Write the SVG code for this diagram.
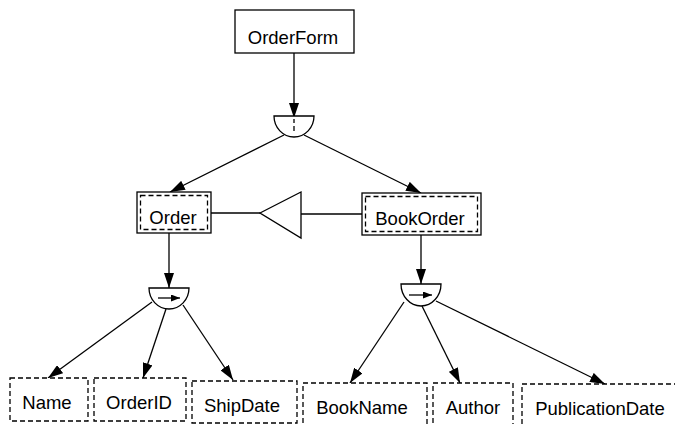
<svg xmlns="http://www.w3.org/2000/svg" width="675" height="424" viewBox="0 0 675 424">
<defs>
<marker id="ah" markerUnits="userSpaceOnUse" markerWidth="15" markerHeight="10" refX="15" refY="5" orient="auto">
<path d="M0,0 L15,5 L0,10 Z" fill="#000"/>
</marker>
<marker id="sh" markerUnits="userSpaceOnUse" markerWidth="9" markerHeight="7" refX="9" refY="3.5" orient="auto">
<path d="M0,0 L9,3.5 L0,7 Z" fill="#000"/>
</marker>
</defs>
<style>
.box{fill:#fff;stroke:#000;stroke-width:1.3}
.dash{fill:#fff;stroke:#000;stroke-width:1.3;stroke-dasharray:5,3}
.idash{fill:none;stroke:#000;stroke-width:1.3;stroke-dasharray:5,3}
.t{font-family:"Liberation Sans",Arial,sans-serif;font-size:18.5px;text-anchor:middle;fill:#000}
.c{fill:none;stroke:#000;stroke-width:1.3}
.a{fill:none;stroke:#000;stroke-width:1.3;marker-end:url(#ah)}
.g{fill:#fff;stroke:#000;stroke-width:1.3}
</style>
<g id="connectors">
<line class="a" x1="294" y1="53" x2="294" y2="118"/>
<line class="a" x1="284" y1="135" x2="170" y2="192"/>
<line class="a" x1="304" y1="135" x2="421" y2="193"/>
<line class="c" x1="211" y1="213" x2="260" y2="213"/>
<line class="c" x1="301" y1="214" x2="362" y2="214"/>
<line class="a" x1="169" y1="233" x2="169" y2="288"/>
<line class="a" x1="152" y1="302" x2="48" y2="378"/>
<line class="a" x1="166" y1="309" x2="143" y2="378"/>
<line class="a" x1="183" y1="305" x2="233" y2="380"/>
<line class="a" x1="421" y1="235" x2="421" y2="284"/>
<line class="a" x1="404" y1="302" x2="350" y2="383"/>
<line class="a" x1="422" y1="306" x2="460" y2="383"/>
<line class="a" x1="436" y1="301" x2="605" y2="384"/>
</g>
<g id="OrderForm">
<rect class="box" x="235" y="10" width="119" height="43"/>
<text class="t" x="293" y="44">OrderForm</text>
</g>
<g id="gate-top">
<path class="g" d="M274,116 A20,21 0 0 0 314,116 Z"/>
<line class="c" x1="294" y1="119" x2="294" y2="123"/>
<line class="c" x1="294" y1="126" x2="294" y2="131"/>
</g>
<g id="Order">
<rect class="box" x="137" y="192" width="74" height="41"/>
<rect class="idash" x="140.5" y="195.5" width="67" height="34"/>
<text class="t" x="173" y="224">Order</text>
</g>
<g id="BookOrder">
<rect class="box" x="362" y="193" width="119" height="42"/>
<rect class="idash" x="365.5" y="196.5" width="112" height="35"/>
<text class="t" x="420" y="225">BookOrder</text>
</g>
<g id="triangle">
<path class="g" d="M260,213 L301,192 L301,238 Z"/>
</g>
<g id="gate-left">
<path class="g" d="M149,288 A20,21 0 0 0 189,288 Z"/>
<line class="c" x1="158" y1="298" x2="180" y2="298" marker-end="url(#sh)"/>
</g>
<g id="gate-right">
<path class="g" d="M401,284 A20,22 0 0 0 441,284 Z"/>
<line class="c" x1="409" y1="295" x2="432" y2="295" marker-end="url(#sh)"/>
</g>
<g id="Name">
<rect class="dash" x="10" y="378" width="78" height="43"/>
<text class="t" x="47" y="409">Name</text>
</g>
<g id="OrderID">
<rect class="dash" x="94" y="378" width="92" height="43"/>
<text class="t" x="139" y="409">OrderID</text>
</g>
<g id="ShipDate">
<rect class="dash" x="192" y="381" width="105" height="42"/>
<text class="t" x="242" y="412">ShipDate</text>
</g>
<g id="BookName">
<rect class="dash" x="303" y="383" width="124" height="44"/>
<text class="t" x="362" y="414">BookName</text>
</g>
<g id="Author">
<rect class="dash" x="433" y="383" width="80" height="44"/>
<text class="t" x="473" y="414">Author</text>
</g>
<g id="PublicationDate">
<rect class="dash" x="522" y="384" width="160" height="44"/>
<text class="t" x="600" y="415">PublicationDate</text>
</g>
</svg>
